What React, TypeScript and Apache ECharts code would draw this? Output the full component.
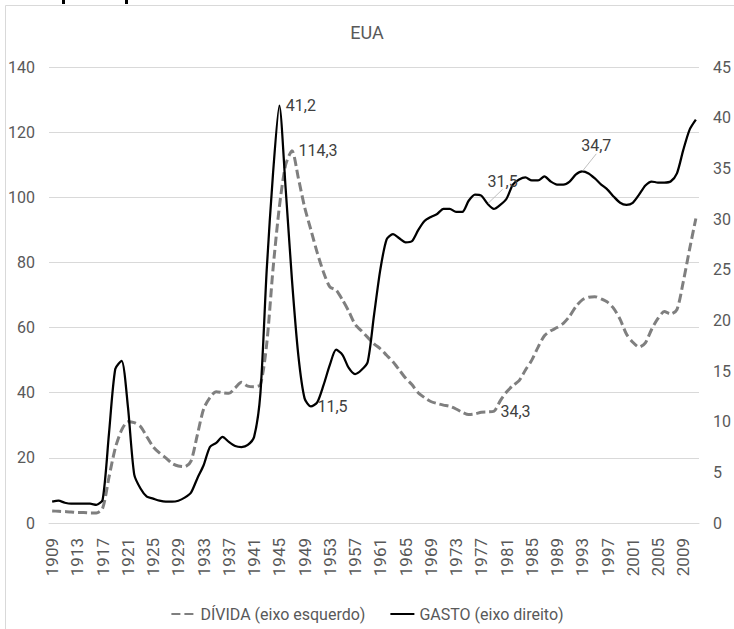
import React, { useEffect, useRef } from "react";
import * as echarts from "echarts";

const years = [
  1909, 1910, 1911, 1912, 1913, 1914, 1915, 1916, 1917, 1918,
  1919, 1920, 1921, 1922, 1923, 1924, 1925, 1926, 1927, 1928,
  1929, 1930, 1931, 1932, 1933, 1934, 1935, 1936, 1937, 1938,
  1939, 1940, 1941, 1942, 1943, 1944, 1945, 1946, 1947, 1948,
  1949, 1950, 1951, 1952, 1953, 1954, 1955, 1956, 1957, 1958,
  1959, 1960, 1961, 1962, 1963, 1964, 1965, 1966, 1967, 1968,
  1969, 1970, 1971, 1972, 1973, 1974, 1975, 1976, 1977, 1978,
  1979, 1980, 1981, 1982, 1983, 1984, 1985, 1986, 1987, 1988,
  1989, 1990, 1991, 1992, 1993, 1994, 1995, 1996, 1997, 1998,
  1999, 2000, 2001, 2002, 2003, 2004, 2005, 2006, 2007, 2008,
  2009, 2010, 2011,
];

// DÍVIDA (% PIB, eixo esquerdo)
const divida = [
  3.7, 3.6, 3.5, 3.4, 3.2, 3.2, 3.1, 3.1, 4.5, 14.0,
  23.0, 28.5, 31.1, 30.8, 29.6, 26.5, 23.4, 21.5, 20.0, 18.3,
  17.5, 17.3, 19.0, 27.0, 35.0, 38.5, 40.3, 40.0, 39.8, 41.5,
  43.2, 42.0, 41.8, 42.5, 55.0, 78.0, 97.0, 110.0, 114.3, 106.0,
  97.0, 90.0, 83.0, 77.0, 72.5, 71.5, 68.5, 65.0, 61.0, 59.0,
  57.0, 55.0, 53.5, 51.5, 49.5, 47.0, 44.5, 42.5, 40.0, 38.5,
  37.3, 36.7, 36.2, 35.8, 35.0, 34.0, 33.3, 33.5, 34.0, 34.1,
  34.3, 37.5, 40.2, 42.2, 43.7, 47.0, 50.0, 54.0, 57.5, 59.0,
  60.0, 61.3, 63.5, 66.5, 68.5, 69.3, 69.5, 68.8, 67.8, 65.8,
  62.5, 58.0, 55.5, 54.0, 55.3, 59.5, 62.8, 64.9, 64.2, 65.5,
  74.0, 84.0, 93.5,
];

// GASTO (% PIB, eixo direito)
const gasto = [
  2.1, 2.2, 2.0, 1.9, 1.9, 1.9, 1.9, 1.8, 2.3, 8.8,
  15.2, 16.0, 11.5, 4.8, 3.4, 2.6, 2.4, 2.2, 2.1, 2.1,
  2.2, 2.5, 3.0, 4.4, 5.7, 7.5, 7.9, 8.5, 8.0, 7.6,
  7.5, 7.7, 8.5, 12.8, 25.0, 34.5, 41.2, 33.0, 24.0, 16.6,
  12.3, 11.5, 11.9, 13.6, 15.6, 17.1, 16.6, 15.3, 14.7, 15.1,
  15.9, 20.5, 25.0, 28.0, 28.5, 28.1, 27.7, 27.8, 28.9, 29.8,
  30.2, 30.5, 31.0, 31.0, 30.7, 30.7, 31.8, 32.4, 32.3, 31.5,
  31.0, 31.4, 32.0, 33.4, 33.9, 34.1, 33.8, 33.8, 34.2, 33.7,
  33.4, 33.4, 33.7, 34.4, 34.7, 34.5, 34.0, 33.4, 32.9, 32.2,
  31.6, 31.4, 31.6, 32.4, 33.3, 33.7, 33.6, 33.6, 33.7, 34.5,
  36.8, 38.8, 39.8,
];

const leftTicks = { min: 0, max: 140, interval: 20 };
const rightTicks = { min: 0, max: 45, interval: 5 };

const dividaLabelYears = [1947, 1979];
const gastoLabelYears = [1945, 1950];
const gastoLeaderYears: Record<number, [number, number]> = { 1978: [15, -11], 1993: [14, -14] };

const FONT = "Roboto, 'Noto Sans', sans-serif";
const TEXT = "#595959";
const fmt = (v: number) => v.toFixed(1).replace(".", ",");

export default function App() {
  const ref = useRef<HTMLDivElement>(null);
  useEffect(() => {
    document.body.style.margin = "0";
    const chart = echarts.init(ref.current!, null, { renderer: "svg" });

    const labelStyle = {
      show: true,
      position: "right" as const,
      distance: 6,
      color: "#404040",
      fontSize: 16,
      fontFamily: FONT,
      formatter: (p: any) => fmt(p.value),
    };

    const dot = (color: string) => ({ symbol: "circle", symbolSize: 1, itemStyle: { color } });

    const dividaData = divida.map((v, i) =>
      dividaLabelYears.includes(years[i])
        ? { value: v, ...dot("#7f7f7f"), label: labelStyle }
        : v
    );
    const gastoData = gasto.map((v, i) => {
      const y = years[i];
      if (gastoLabelYears.includes(y)) return { value: v, ...dot("#000"), label: labelStyle };
      if (gastoLeaderYears[y])
        return {
          value: v,
          ...dot("#000"),
          label: { ...labelStyle, position: "top" as const, distance: 3 },
          labelLine: { show: true, minTurnAngle: 0, lineStyle: { color: "#bfbfbf", width: 1 } },
        };
      return v;
    });

    const option: any = {
      animation: false,
      backgroundColor: "#ffffff",
      title: {
        text: "EUA",
        left: "center",
        top: 18,
        textStyle: { fontSize: 18, fontWeight: "normal", color: TEXT, fontFamily: FONT },
      },
      legend: {
        top: 601,
        left: "center",
        itemWidth: 24,
        itemHeight: 10,
        itemGap: 24,
        itemStyle: { opacity: 0 },
        textStyle: { fontSize: 16, color: TEXT, fontFamily: FONT },
        data: ["DÍVIDA (eixo esquerdo)", "GASTO (eixo direito)"],
      },
      grid: { left: 49, right: 34, top: 67, bottom: 106, containLabel: false },
      xAxis: {
        type: "category",
        data: years,
        boundaryGap: true,
        axisLine: { show: true, lineStyle: { color: "#d9d9d9" } },
        axisTick: { show: false },
        axisLabel: {
          interval: 3,
          rotate: 90,
          margin: 15,
          fontSize: 17,
          color: TEXT,
          fontFamily: FONT,
        },
      },
      yAxis: [
        {
          type: "value",
          ...leftTicks,
          axisLine: { show: false },
          axisTick: { show: false },
          splitLine: { lineStyle: { color: "#d9d9d9" } },
          axisLabel: { margin: 14, fontSize: 16, color: TEXT, fontFamily: FONT },
        },
        {
          type: "value",
          ...rightTicks,
          position: "right",
          axisLine: { show: false },
          axisTick: { show: false },
          splitLine: { show: false },
          axisLabel: { margin: 14, fontSize: 16, color: TEXT, fontFamily: FONT },
        },
      ],
      series: [
        {
          name: "DÍVIDA (eixo esquerdo)",
          type: "line",
          yAxisIndex: 0,
          data: dividaData,
          symbol: "none",
          showSymbol: true,
          showAllSymbol: true,
          smooth: 0.25,
          color: "#7f7f7f",
          lineStyle: { color: "#7f7f7f", width: 3, type: [9, 4] },
          z: 2,
        },
        {
          name: "GASTO (eixo direito)",
          type: "line",
          yAxisIndex: 1,
          data: gastoData,
          symbol: "none",
          showSymbol: true,
          showAllSymbol: true,
          smooth: 0.25,
          color: "#000000",
          lineStyle: { color: "#000000", width: 2.25 },
          labelLayout: (params: any) => {
            const y = years[params.dataIndex];
            const d = gastoLeaderYears[y];
            if (params.seriesIndex === 1 && d) return { dx: d[0], dy: d[1] };
            return {};
          },
          z: 3,
        },
      ],
      graphic: [
        {
          type: "rect",
          silent: true,
          shape: { x: 5.5, y: 5.5, width: 780, height: 680 },
          style: { fill: "none", stroke: "#d9d9d9", lineWidth: 1 },
        },
        { type: "rect", silent: true, shape: { x: 62, y: 0, width: 3, height: 4 }, style: { fill: "#000" } },
        { type: "rect", silent: true, shape: { x: 125, y: 0, width: 3, height: 4 }, style: { fill: "#000" } },
      ],
    };

    chart.setOption(option);
    return () => chart.dispose();
  }, []);

  return <div ref={ref} style={{ width: 734, height: 629 }} />;
}
